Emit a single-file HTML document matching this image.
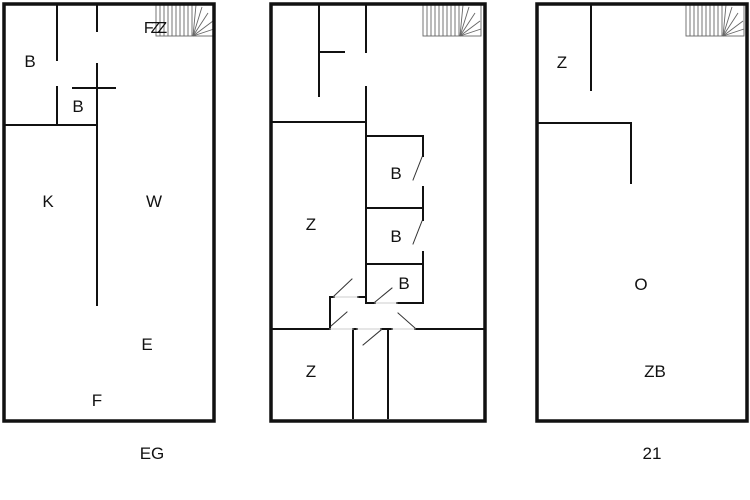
<!DOCTYPE html>
<html><head><style>html,body{margin:0;padding:0;background:#fff;width:750px;height:500px;overflow:hidden}
svg text{font-family:"Liberation Sans",sans-serif;font-size:17px;fill:#111;text-anchor:middle}</style></head>
<body>
<svg width="750" height="500" viewBox="0 0 750 500" xmlns="http://www.w3.org/2000/svg">
<defs>
<g id="st">
<rect x="0" y="0" width="58" height="31" fill="none" stroke="#666" stroke-width="0.9"/>
<g stroke="#666" stroke-width="0.9">
<line x1="4" y1="0" x2="4" y2="31"/><line x1="8" y1="0" x2="8" y2="31"/><line x1="12" y1="0" x2="12" y2="31"/><line x1="16" y1="0" x2="16" y2="31"/><line x1="20" y1="0" x2="20" y2="31"/><line x1="24" y1="0" x2="24" y2="31"/><line x1="28" y1="0" x2="28" y2="31"/><line x1="32" y1="0" x2="32" y2="31"/><line x1="36" y1="0" x2="36" y2="31"/>
<line x1="37" y1="31" x2="40" y2="0"/><line x1="37" y1="31" x2="46" y2="2"/><line x1="37" y1="31" x2="52" y2="8"/><line x1="37" y1="31" x2="57" y2="16"/><line x1="37" y1="31" x2="58" y2="24"/>
</g></g>
</defs>
<use href="#st" x="156" y="5"/>
<use href="#st" x="423" y="5"/>
<use href="#st" x="686" y="5"/>
<g fill="none" stroke="#111" stroke-linecap="square">
<rect x="4" y="4" width="210" height="417" stroke-width="3.5"/>
<rect x="271" y="4" width="214" height="417" stroke-width="3.5"/>
<rect x="537" y="4" width="210" height="417" stroke-width="3.5"/>
<g stroke-width="2">
<line x1="57" y1="5" x2="57" y2="60"/><line x1="57" y1="87" x2="57" y2="125"/>
<line x1="97" y1="5" x2="97" y2="31"/><line x1="97" y1="64" x2="97" y2="305"/>
<line x1="73" y1="88" x2="115" y2="88"/><line x1="4" y1="125" x2="97" y2="125"/>
<line x1="319" y1="5" x2="319" y2="96"/><line x1="319" y1="52" x2="344" y2="52"/>
<line x1="366" y1="5" x2="366" y2="52"/><line x1="366" y1="87" x2="366" y2="303"/>
<line x1="271" y1="122" x2="366" y2="122"/>
<line x1="366" y1="136" x2="423" y2="136"/><line x1="366" y1="208" x2="423" y2="208"/><line x1="366" y1="264" x2="423" y2="264"/>
<line x1="423" y1="136" x2="423" y2="156"/><line x1="423" y1="187" x2="423" y2="220"/><line x1="423" y1="252" x2="423" y2="303"/>
<line x1="397" y1="303" x2="423" y2="303"/><line x1="366" y1="303" x2="375" y2="303"/>
<line x1="330" y1="297" x2="330" y2="329"/><line x1="330" y1="297" x2="334" y2="297"/><line x1="358" y1="297" x2="366" y2="297"/>
<line x1="271" y1="329" x2="330" y2="329"/><line x1="415" y1="329" x2="485" y2="329"/>
<line x1="353" y1="329" x2="353" y2="418"/><line x1="388" y1="329" x2="388" y2="418"/>
<line x1="353" y1="329" x2="357" y2="329"/><line x1="381" y1="329" x2="392" y2="329"/>
<line x1="591" y1="5" x2="591" y2="90"/><line x1="537" y1="123" x2="631" y2="123"/><line x1="631" y1="123" x2="631" y2="183"/>
</g>
<g stroke-width="1" stroke="#333">
<line x1="413" y1="180" x2="422" y2="157"/><line x1="413" y1="244" x2="422" y2="221"/>
<line x1="375" y1="302" x2="392" y2="288"/><line x1="334" y1="296" x2="352" y2="279"/>
<line x1="331" y1="326" x2="347" y2="312"/><line x1="398" y1="313" x2="415" y2="328"/>
<line x1="363" y1="345" x2="381" y2="330"/>
</g>
<g stroke="#ccc" stroke-width="1">
<line x1="334" y1="297" x2="358" y2="297"/><line x1="375" y1="303" x2="397" y2="303"/>
<line x1="330" y1="329" x2="353" y2="329"/><line x1="357" y1="329" x2="381" y2="329"/><line x1="392" y1="329" x2="415" y2="329"/>
</g>
</g>
<text x="30" y="67">B</text><text x="78" y="112">B</text>
<text x="154" y="33" style="font-size:16px;letter-spacing:-3px">FZZ</text>
<text x="48" y="207">K</text><text x="154" y="207">W</text>
<text x="147" y="350">E</text><text x="97" y="406">F</text>
<text x="152" y="459">EG</text>
<text x="311" y="230">Z</text><text x="396" y="179">B</text><text x="396" y="242">B</text><text x="404" y="289">B</text>
<text x="311" y="377">Z</text>
<text x="562" y="68">Z</text><text x="641" y="290">O</text><text x="655" y="377">ZB</text>
<text x="652" y="459">21</text>
</svg>
</body></html>
